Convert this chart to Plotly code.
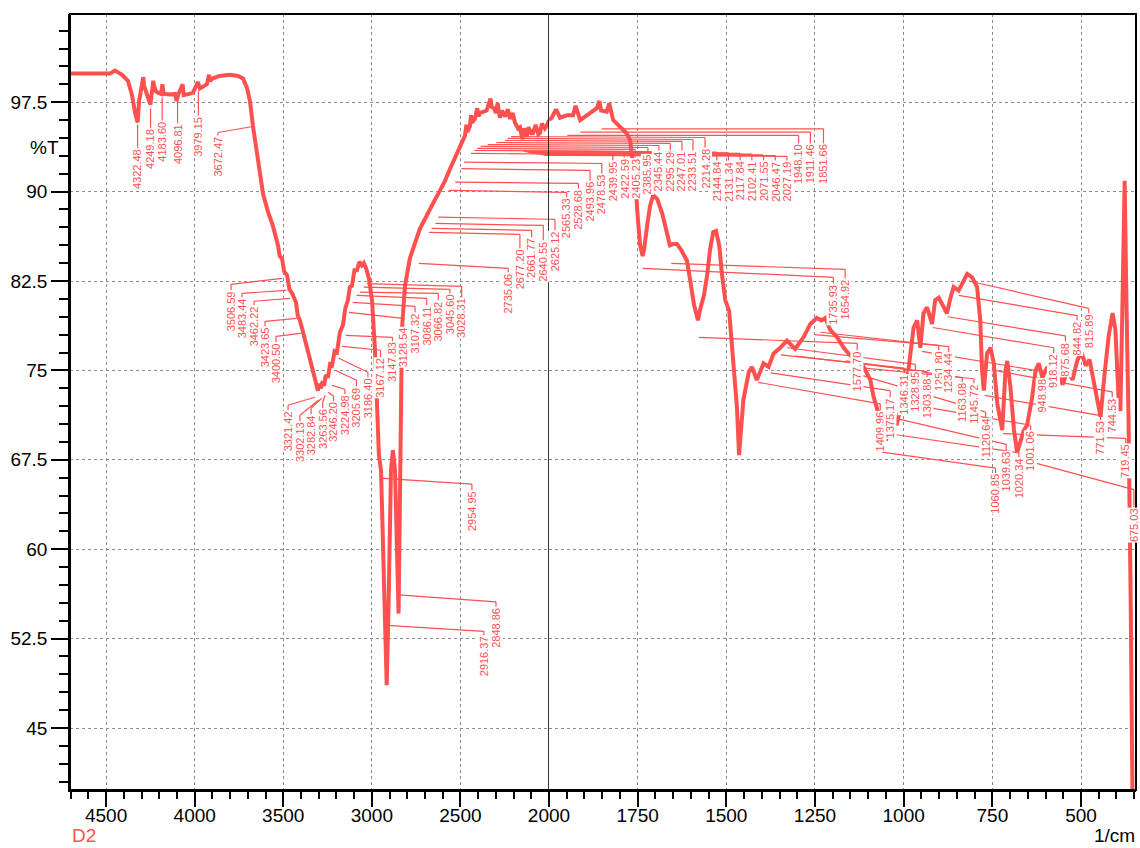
import plotly.graph_objects as go

RED = "#ff5050"
FONT = "Liberation Sans, Arial, sans-serif"

# ---------------- spectrum data (wavenumber 1/cm, %T) ----------------
wn_high = [4704, 4478, 4450, 4410, 4377, 4354, 4335, 4322, 4314, 4300, 4294, 4290, 4286, 4281,
           4266, 4250, 4241, 4234, 4230, 4218, 4207, 4190, 4182, 4176, 4140, 4111, 4102, 4094,
           4068, 4062, 4030, 4010, 3981, 3971, 3931, 3919, 3912, 3897, 3860, 3800, 3756, 3727,
           3705, 3688, 3671, 3643, 3614, 3586, 3558, 3530, 3520, 3507, 3495, 3479, 3465, 3451,
           3440, 3428, 3418, 3406, 3395, 3383, 3370, 3360, 3345, 3332, 3318, 3304, 3296, 3287,
           3278, 3270, 3260, 3248, 3236, 3225, 3210, 3197, 3180, 3163, 3150, 3135, 3124, 3112,
           3098, 3084, 3070, 3056, 3045, 3033, 3016, 2999, 2982, 2971, 2960, 2948, 2931, 2916,
           2905, 2892, 2881, 2869, 2849, 2841, 2830, 2813, 2785, 2756, 2728, 2700, 2672, 2644,
           2615, 2587, 2559, 2531, 2502, 2474, 2466, 2460, 2446, 2440, 2434, 2418, 2405, 2398,
           2390, 2370, 2352, 2330, 2323, 2310, 2299, 2290, 2277, 2265, 2248, 2232, 2220, 2205,
           2192, 2175, 2164, 2150, 2140, 2126, 2115, 2100, 2090, 2075, 2060, 2051, 2040, 2023,
           2010, 2000]
t_high = [99.9, 99.9, 100.15, 99.8, 99.3, 98.1, 96.5, 95.8, 97.6, 98.8, 99.05, 99.6, 98.9, 98.6,
          98.0, 97.3, 98.3, 99.3, 98.9, 98.4, 98.3, 98.2, 99.0, 98.2, 98.15, 98.2, 97.6, 98.1,
          99.0, 98.1, 98.2, 98.3, 99.2, 98.65, 99.0, 99.8, 99.3, 99.5, 99.7, 99.8, 99.7, 99.5,
          98.7, 97.6, 95.5, 92.6, 89.8, 88.3, 87.1, 85.5, 84.6, 84.4, 83.3, 83.0, 81.8, 81.5,
          81.2, 80.7, 79.6, 79.2, 78.6, 77.9, 77.3, 76.7, 75.9, 75.0, 74.0, 73.3, 73.9, 73.5,
          74.1, 73.7, 74.6, 74.4, 75.5, 75.4, 76.6, 76.5, 78.2, 78.8, 80.2, 80.9, 82.0, 82.1,
          83.4, 83.4, 84.1, 83.8, 84.0, 83.6, 82.7, 80.9, 76.7, 72.5, 67.9, 66.6, 55.7, 48.6,
          55.7, 66.6, 68.3, 66.6, 54.6, 62.4, 78.4, 82.1, 84.4, 85.7, 86.9, 87.7, 88.6, 89.3,
          90.1, 90.9, 91.9, 92.8, 93.6, 94.7, 95.6, 95.0, 95.5, 96.4, 95.8, 96.1, 97.0, 96.3,
          96.6, 96.7, 96.8, 97.8, 97.1, 97.0, 96.6, 97.4, 96.2, 96.8, 96.3, 96.9, 96.1, 96.6,
          95.8, 95.3, 95.4, 94.4, 95.3, 94.6, 95.4, 94.9, 94.9, 95.6, 94.8, 94.9, 95.7, 95.3,
          95.6, 96.0]

wn_low = [2000, 1992, 1980, 1969, 1949, 1932, 1925, 1912, 1898, 1884, 1865, 1858, 1853, 1837,
          1830, 1819, 1800, 1781, 1771, 1766, 1760, 1754, 1749, 1743, 1736, 1732, 1723, 1715,
          1706, 1695, 1681, 1667, 1659, 1650, 1639, 1627, 1611, 1602, 1591, 1580, 1574, 1563,
          1554, 1546, 1537, 1529, 1520, 1512, 1503, 1492, 1481, 1470, 1464, 1458, 1452, 1437,
          1428, 1414, 1395, 1381, 1367, 1348, 1329, 1306, 1282, 1263, 1245, 1232, 1221, 1207,
          1188, 1169, 1155, 1132, 1113, 1094, 1085, 1075, 1061, 1050, 1040, 1030, 1020, 1010,
          1001, 990, 981, 972, 962, 953, 944, 934, 920, 911, 901, 887, 878, 868, 859, 845, 831,
          821, 807, 793, 784, 779, 774, 765, 755, 746, 736, 722, 713, 708, 699, 689, 680, 670,
          661, 652, 638, 628, 619, 609, 595, 580, 566, 552, 538, 524, 510, 498, 487, 476, 465,
          453, 445, 434, 422, 411, 403, 394, 389, 383, 377, 372, 366, 360, 352]
t_low = [96.0, 96.2, 96.9, 96.2, 96.4, 96.4, 97.2, 96.0, 96.3, 96.6, 97.0, 97.6, 96.8, 96.7,
         97.4, 96.0, 95.4, 94.9, 94.3, 93.0, 90.9, 89.7, 87.6, 85.5, 84.6, 85.1, 87.2, 88.8,
         89.7, 89.4, 88.2, 86.5, 85.5, 85.6, 85.6, 85.1, 84.2, 82.6, 80.5, 79.2, 80.1, 81.3,
         83.0, 85.1, 86.6, 86.7, 85.5, 83.0, 80.9, 80.0, 75.6, 71.9, 67.9, 70.0, 72.5, 74.8,
         75.3, 74.2, 75.6, 75.3, 76.4, 76.9, 77.5, 76.8, 77.8, 78.9, 79.4, 79.2, 79.4, 78.4,
         77.8, 76.9, 76.4, 75.8, 75.3, 74.2, 72.8, 71.8, 69.9, 69.1, 70.8, 71.2, 70.4, 71.7,
         72.5, 74.2, 76.7, 78.6, 79.2, 76.9, 79.8, 80.3, 78.9, 80.9, 81.1, 80.3, 79.8, 81.1,
         82.0, 81.7, 82.6, 83.1, 82.8, 82.0, 79.2, 75.0, 73.3, 76.4, 76.9, 75.6, 72.2, 70.0,
         75.0, 75.8, 73.6, 70.0, 68.1, 69.1, 70.0, 70.4, 72.7, 75.0, 75.6, 74.4, 75.3, 74.2,
         75.4, 73.8, 75.0, 74.2, 75.9, 76.5, 75.4, 75.9, 74.2, 72.5, 71.1, 74.6, 77.9, 79.8,
         78.4, 72.5, 71.6, 80.9, 90.9, 80.9, 70.8, 55.7, 30.0]

# ---------------- peak table ----------------
peak_wn = [4322.48, 4249.18, 4183.60, 4096.81, 3979.15, 3672.47,
           3506.59, 3483.44, 3462.22, 3423.65, 3400.50,
           3321.42, 3302.13, 3282.84, 3263.56, 3246.20, 3224.98, 3205.69, 3186.40,
           3167.12, 3147.83, 3128.54, 3107.32, 3086.11, 3066.82, 3045.60, 3028.31,
           2954.95, 2916.37, 2848.86,
           2735.06, 2677.20, 2661.77, 2640.55, 2625.12,
           2565.33, 2528.68, 2493.96, 2478.53, 2439.95, 2422.59, 2405.23, 2385.95, 2345.44,
           2295.29, 2247.01, 2233.51, 2214.28, 2144.84, 2131.34, 2117.84, 2102.41, 2071.55,
           2046.47, 2027.19, 1948.10, 1911.46, 1851.66,
           1735.93, 1654.92,
           1577.70, 1409.96, 1375.17, 1346.31, 1328.95, 1303.88, 1251.80, 1234.44, 1163.08,
           1145.72, 1120.64, 1060.85, 1039.63, 1020.34, 1001.06, 948.98, 918.12, 875.68,
           844.82, 815.89, 771.53, 744.53, 719.45, 675.03]

# label placement: (leader start %T, elbow %T, label column 1/cm, label top %T)
label_place = [
    (95.63, 93.79, 4322.48, 93.62), (96.97, 95.46, 4249.18, 95.30), (97.89, 96.13, 4183.60, 95.97),
    (97.81, 95.88, 4096.81, 95.71), (98.40, 96.55, 3979.15, 96.39), (95.46, 94.96, 3868, 94.71),
    (82.72, 82.22, 3795, 81.72), (81.72, 81.47, 3733, 81.13), (81.05, 80.80, 3665, 80.46),
    (79.37, 79.12, 3603, 78.70), (78.11, 77.86, 3541, 77.36),
    (72.75, 72.08, 3473, 71.66), (72.50, 71.24, 3406, 70.74), (72.66, 71.83, 3343, 71.32),
    (72.92, 72.33, 3277, 71.83), (73.17, 72.83, 3216, 72.41), (73.75, 73.42, 3152, 73.00),
    (75.01, 74.17, 3087, 73.67), (76.02, 74.84, 3022, 74.42),
    (77.02, 76.69, 2951, 76.10), (77.94, 77.77, 2883, 77.44), (79.87, 79.37, 2824, 78.70),
    (80.71, 80.38, 2756, 79.87), (81.30, 81.05, 2690, 80.46), (81.57, 81.47, 2625, 80.88),
    (81.99, 81.80, 2559, 81.47), (82.28, 82.05, 2493, 81.13),
    (65.96, 65.46, 2435, 64.95), (53.61, 53.11, 2367, 52.78), (56.17, 55.58, 2299, 55.17),
    (83.98, 83.56, 2230, 83.23), (86.58, 86.41, 2164, 85.24), (86.91, 86.75, 2098, 86.16),
    (87.33, 87.16, 2032, 85.91), (87.86, 87.67, 1983, 86.75),
    (90.10, 89.93, 1950, 89.51), (90.79, 90.69, 1917, 90.27), (91.92, 91.78, 1884, 90.94),
    (92.47, 92.36, 1851, 91.52), (93.20, 93.12, 1820, 92.61), (93.45, 93.37, 1788, 92.86),
    (93.62, 93.54, 1757, 92.86), (93.79, 93.70, 1721, 93.20), (93.95, 93.87, 1690, 93.45),
    (94.12, 94.04, 1658, 93.45), (94.29, 94.21, 1625, 93.45), (94.46, 94.37, 1594, 93.45),
    (94.62, 94.54, 1560, 93.70), (93.40, 93.32, 1527, 92.61), (93.34, 93.26, 1494, 92.61),
    (93.28, 93.20, 1461, 92.61), (93.22, 93.14, 1428, 92.61), (93.16, 93.08, 1395, 92.61),
    (93.10, 93.02, 1362, 92.61), (93.04, 92.96, 1329, 92.61), (94.71, 94.71, 1296, 94.04),
    (94.99, 94.99, 1263, 94.04), (95.27, 95.27, 1226, 94.04),
    (83.56, 82.81, 1198, 82.30), (83.98, 83.48, 1165, 82.72),
    (77.77, 77.27, 1131, 76.69), (74.0, 72.2, 1066, 71.66), (74.8, 73.3, 1038, 72.75),
    (76.3, 75.2, 998, 74.76), (76.9, 75.5, 967, 75.01), (76.2, 74.9, 934, 74.43),
    (78.0, 77.1, 901, 76.69), (78.2, 77.0, 873, 76.52), (75.8, 74.4, 835, 74.01),
    (75.3, 74.3, 802, 73.92), (74.6, 71.5, 769, 71.07), (68.14, 66.8, 741, 66.38),
    (71.1, 68.8, 711, 68.30), (69.6, 68.1, 675, 67.71), (72.25, 70.4, 642, 69.98),
    (76.6, 74.9, 609, 74.43), (78.6, 76.9, 577, 76.44), (79.5, 77.9, 544, 77.44),
    (81.3, 79.6, 511, 79.20), (82.5, 80.2, 478, 79.79), (72.9, 71.2, 445, 70.82),
    (75.0, 73.2, 412, 72.75), (69.7, 69.3, 374, 68.89), (67.6, 65.0, 351, 63.52),
]

# ---------------- axes geometry ----------------
X_HIGH = [4704, 2000]
X_LOW = [2000, 345]
SPLIT = 0.4493
Y_RANGE = [39.8, 104.9]

# relative pixel scale of the two axis pieces (per 1/cm)
s_high = SPLIT / (X_HIGH[0] - X_HIGH[1])
s_low = (1 - SPLIT) / (X_LOW[0] - X_LOW[1])

lead_hi_x, lead_hi_y, lead_lo_x, lead_lo_y = [], [], [], []


def add_seg(a, b):
    (w1, t1), (w2, t2) = a, b
    if w1 >= 2000 and w2 >= 2000:
        lead_hi_x.extend([w1, w2, None]); lead_hi_y.extend([t1, t2, None])
    elif w1 <= 2000 and w2 <= 2000:
        lead_lo_x.extend([w1, w2, None]); lead_lo_y.extend([t1, t2, None])
    else:
        d1 = (w1 - 2000) * s_high
        d2 = (2000 - w2) * s_low
        f = d1 / (d1 + d2)
        tm = t1 + (t2 - t1) * f
        lead_hi_x.extend([w1, 2000, None]); lead_hi_y.extend([t1, tm, None])
        lead_lo_x.extend([2000, w2, None]); lead_lo_y.extend([tm, t2, None])


annotations = []
for p, (ts, te, lx, tt) in zip(peak_wn, label_place):
    add_seg((p, ts), (lx, te))
    add_seg((lx, te), (lx, tt))
    annotations.append(dict(
        x=lx, y=tt, xref="x" if lx >= 2000 else "x2", yref="y",
        text=f"{p:.2f}", showarrow=False, textangle=-90,
        xanchor="center", yanchor="top", borderpad=0, bgcolor="white",
        font=dict(family=FONT, size=11, color=RED)))

fig = go.Figure()
fig.add_trace(go.Scatter(x=wn_high, y=t_high, mode="lines", xaxis="x", yaxis="y",
                         line=dict(color=RED, width=4), hoverinfo="skip"))
fig.add_trace(go.Scatter(x=wn_low, y=t_low, mode="lines", xaxis="x2", yaxis="y",
                         line=dict(color=RED, width=4), hoverinfo="skip"))
fig.add_trace(go.Scatter(x=lead_hi_x, y=lead_hi_y, mode="lines", xaxis="x", yaxis="y",
                         line=dict(color=RED, width=1.2), hoverinfo="skip"))
fig.add_trace(go.Scatter(x=lead_lo_x, y=lead_lo_y, mode="lines", xaxis="x2", yaxis="y",
                         line=dict(color=RED, width=1.2), hoverinfo="skip"))

tickfont = dict(family=FONT, size=19, color="black")
common_x = dict(showline=True, linecolor="black", linewidth=1.5, ticks="outside",
                ticklen=15, tickwidth=1.5, tickcolor="black", tickfont=tickfont,
                showgrid=True, gridcolor="#8c8c8c", griddash="dot", gridwidth=1,
                zeroline=False, tickmode="array", automargin=False, ticklabelstandoff=-8)

fig.update_layout(
    width=1140, height=848,
    margin=dict(l=70, r=4, t=14, b=58, autoexpand=False),
    paper_bgcolor="white", plot_bgcolor="white",
    showlegend=False,
    xaxis=dict(domain=[0, SPLIT], range=X_HIGH, anchor="y",
               tickvals=[4500, 4000, 3500, 3000, 2500, 2000],
               minor=dict(tickmode="linear", tick0=0, dtick=100, ticks="outside",
                          ticklen=7, tickwidth=1.5, tickcolor="black", showgrid=False),
               **common_x),
    xaxis2=dict(domain=[SPLIT, 1], range=X_LOW, anchor="y",
                tickvals=[1750, 1500, 1250, 1000, 750, 500],
                minor=dict(tickmode="linear", tick0=0, dtick=50, ticks="outside",
                           ticklen=7, tickwidth=1.5, tickcolor="black", showgrid=False),
                **common_x),
    yaxis=dict(range=Y_RANGE, anchor="x", showline=True, linecolor="black", linewidth=1.5,
               ticks="outside", ticklen=17, tickwidth=1.5, tickcolor="black",
               tickfont=tickfont, tickmode="linear", tick0=0, dtick=7.5, automargin=False,
               minor=dict(tickmode="linear", tick0=0, dtick=1.5, ticks="outside",
                          ticklen=9, tickwidth=1.5, tickcolor="black", showgrid=False),
               showgrid=True, gridcolor="#8c8c8c", griddash="dot", gridwidth=1,
               zeroline=False),
    annotations=annotations + [
        dict(xref="paper", yref="y", x=-0.0235, y=93.7, text="%T", showarrow=False,
             xanchor="center", yanchor="middle", font=dict(family=FONT, size=19, color="black")),
        dict(xref="paper", yref="paper", x=0, y=-0.059, text="D2", showarrow=False,
             xanchor="left", yanchor="middle", font=dict(family=FONT, size=19, color=RED)),
        dict(xref="paper", yref="paper", x=1.001, y=-0.059, text="1/cm", showarrow=False,
             xanchor="right", yanchor="middle", font=dict(family=FONT, size=19, color="black")),
    ],
    shapes=[
        dict(type="line", xref="x", yref="paper", x0=2000, x1=2000, y0=0, y1=1,
             line=dict(color="black", width=1.5)),
        dict(type="rect", xref="paper", yref="paper", x0=0, x1=1, y0=0, y1=1,
             line=dict(color="black", width=2)),
    ],
)

fig.write_html("out.html")
